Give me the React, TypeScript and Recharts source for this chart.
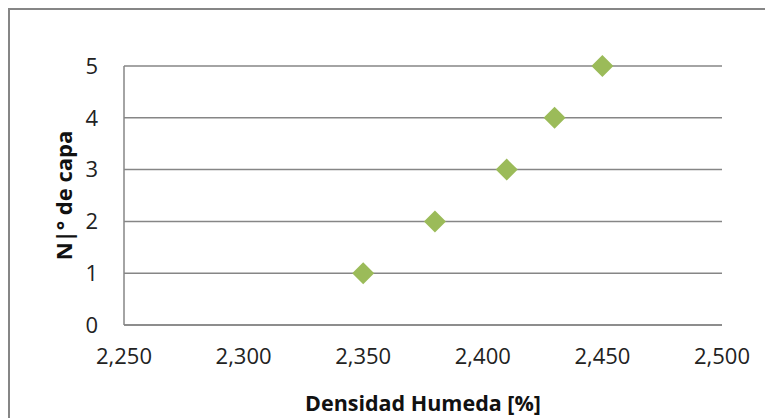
import React from "react";
import { ScatterChart, Scatter, XAxis, YAxis, CartesianGrid } from "recharts";

// densidad humeda per layer (x) and layer number (y)
const densidad = [2350, 2380, 2410, 2430, 2450];
const capa = [1, 2, 3, 4, 5];
const xTicks = [2250, 2300, 2350, 2400, 2450, 2500];
const yTicks = [0, 1, 2, 3, 4, 5];

const data = densidad.map((d, i) => ({ x: d, y: capa[i] }));

const FONT = "'Open Sans', 'Liberation Sans', sans-serif";
const GRAY = "#868686";

const Diamond = (props: any) => {
  const { cx, cy } = props;
  const r = 11;
  return (
    <polygon
      points={`${cx},${cy - r} ${cx + r},${cy} ${cx},${cy + r} ${cx - r},${cy}`}
      fill="#9BBB59"
    />
  );
};

const fmt = (v: number) => v.toLocaleString("en-US");

export default function App() {
  return (
    <div style={{ position: "relative", width: 765, height: 418, overflow: "hidden", background: "#fff" }}>
      <style>{`body{margin:0}`}</style>
      <div
        style={{
          position: "absolute",
          left: 8,
          top: 8,
          width: 800,
          height: 500,
          border: `2px solid ${GRAY}`,
        }}
      />
      <div style={{ position: "absolute", left: 0, top: 0 }}>
        <ScatterChart
          width={765}
          height={418}
          margin={{ top: 66, right: 43, left: 0, bottom: 0 }}
          style={{ fontFamily: FONT }}
        >
          <CartesianGrid vertical={false} stroke={GRAY} strokeWidth={1.5} />
          <XAxis
            type="number"
            dataKey="x"
            domain={[2250, 2500]}
            ticks={xTicks}
            tickFormatter={fmt}
            tickLine={false}
            tickSize={0}
            tickMargin={23}
            height={93}
            axisLine={{ stroke: GRAY, strokeWidth: 1.5 }}
            tick={{ fill: "#222", fontSize: 22, fontFamily: FONT }}
            interval={0}
            label={{
              value: "Densidad Humeda [%]",
              position: "insideBottom",
              offset: 7,
              fill: "#111",
              fontSize: 21.5,
              fontWeight: "bold",
              fontFamily: FONT,
            }}
          />
          <YAxis
            type="number"
            dataKey="y"
            domain={[0, 5]}
            ticks={yTicks}
            tickLine={false}
            tickSize={0}
            tickMargin={26}
            width={124}
            axisLine={{ stroke: GRAY, strokeWidth: 1.5 }}
            tick={{ fill: "#222", fontSize: 22, fontFamily: FONT }}
            interval={0}
            label={{
              value: "N|° de capa",
              angle: -90,
              position: "center",
              dx: 2,
              fill: "#111",
              fontSize: 22,
              fontWeight: "bold",
              fontFamily: FONT,
            }}
          />
          <Scatter data={data} shape={<Diamond />} isAnimationActive={false} />
        </ScatterChart>
      </div>
    </div>
  );
}
